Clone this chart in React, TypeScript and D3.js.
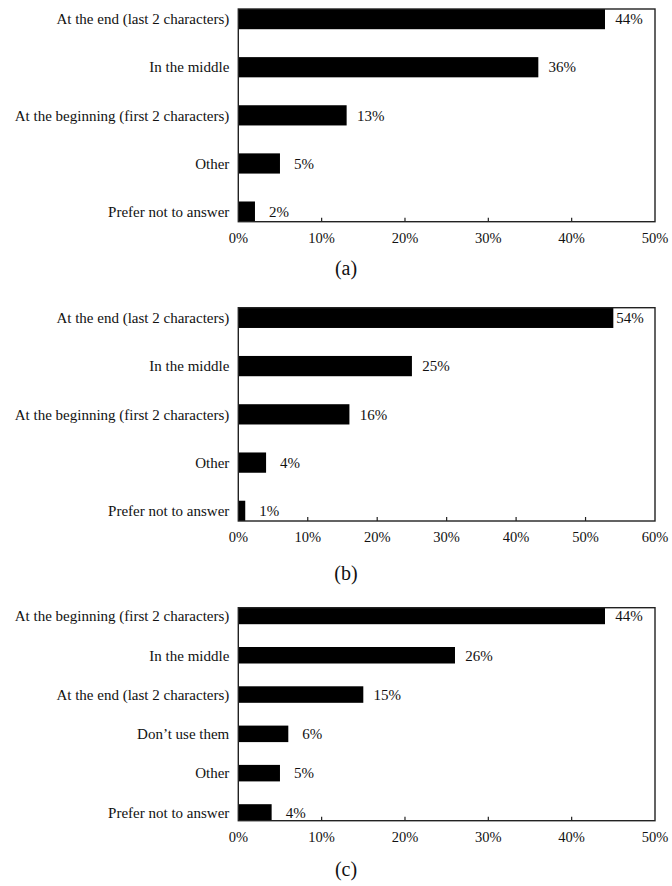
import React from "react";
import * as d3 from "d3";

// Survey answers: where in a password the digits/symbols are placed
const categoriesA = [
  "At the end (last 2 characters)",
  "In the middle",
  "At the beginning (first 2 characters)",
  "Other",
  "Prefer not to answer",
];
const valuesA = [44, 36, 13, 5, 2];
const ticksA = [0, 10, 20, 30, 40, 50];

const categoriesB = [
  "At the end (last 2 characters)",
  "In the middle",
  "At the beginning (first 2 characters)",
  "Other",
  "Prefer not to answer",
];
const valuesB = [54, 25, 16, 4, 1];
const ticksB = [0, 10, 20, 30, 40, 50, 60];

const categoriesC = [
  "At the beginning (first 2 characters)",
  "In the middle",
  "At the end (last 2 characters)",
  "Don\u2019t use them",
  "Other",
  "Prefer not to answer",
];
const valuesC = [44, 26, 15, 6, 5, 4];
const ticksC = [0, 10, 20, 30, 40, 50];

const captions = ["(a)", "(b)", "(c)"];

const FONT = "Liberation Serif, DejaVu Serif, serif";
const INK = "#111";

type PanelProps = {
  categories: string[];
  values: number[];
  ticks: number[];
  caption: string;
  top: number;
  bottom: number;
  captionY: number;
};

const LEFT = 238.3;
const RIGHT = 655;

function Panel({ categories, values, ticks, caption, top, bottom, captionY }: PanelProps) {
  const max = ticks[ticks.length - 1];
  const x = d3.scaleLinear().domain([0, max]).range([LEFT, RIGHT]);
  const y = d3
    .scaleBand<string>()
    .domain(categories)
    .range([top, bottom])
    .paddingInner(0.58)
    .paddingOuter(0);
  const bw = y.bandwidth();

  return (
    <g>
      {categories.map((c, i) => {
        const y0 = y(c)!;
        const xEnd = x(values[i]);
        const labelX = Math.min(xEnd + 24, RIGHT - 25);
        return (
          <g key={c}>
            <rect x={x(0)} y={y0} width={xEnd - x(0)} height={bw} fill="#000" />
            <text
              x={LEFT - 9}
              y={y0 + bw / 2}
              dy="0.35em"
              textAnchor="end"
              fontSize={15}
              fill={INK}
            >
              {c}
            </text>
            <text
              x={labelX}
              y={y0 + bw / 2}
              dy="0.35em"
              textAnchor="middle"
              fontSize={15}
              fill={INK}
            >
              {values[i]}%
            </text>
          </g>
        );
      })}
      {/* plot frame */}
      <rect
        x={LEFT}
        y={top}
        width={RIGHT - LEFT}
        height={bottom - top}
        fill="none"
        stroke="#222"
        strokeWidth={1.4}
      />
      {ticks.map((t) => (
        <g key={t}>
          {t > 0 && t < max && (
            <line x1={x(t)} x2={x(t)} y1={bottom} y2={bottom - 4} stroke="#222" strokeWidth={1.2} />
          )}
          <text
            x={x(t)}
            y={bottom + 21}
            textAnchor="middle"
            fontSize={14.5}
            fill={INK}
          >
            {t}%
          </text>
        </g>
      ))}
      <text x={346} y={captionY} dy="0.35em" textAnchor="middle" fontSize={20} fill={INK}>
        {caption}
      </text>
    </g>
  );
}

export default function App() {
  return (
    <svg
      width={672}
      height={886}
      style={{ position: "absolute", left: 0, top: 0, background: "#fff", fontFamily: FONT }}
    >
      <Panel
        categories={categoriesA}
        values={valuesA}
        ticks={ticksA}
        caption={captions[0]}
        top={9}
        bottom={221.7}
        captionY={268}
      />
      <Panel
        categories={categoriesB}
        values={valuesB}
        ticks={ticksB}
        caption={captions[1]}
        top={307.7}
        bottom={521}
        captionY={573}
      />
      <Panel
        categories={categoriesC}
        values={valuesC}
        ticks={ticksC}
        caption={captions[2]}
        top={607.7}
        bottom={820.7}
        captionY={869}
      />
    </svg>
  );
}
